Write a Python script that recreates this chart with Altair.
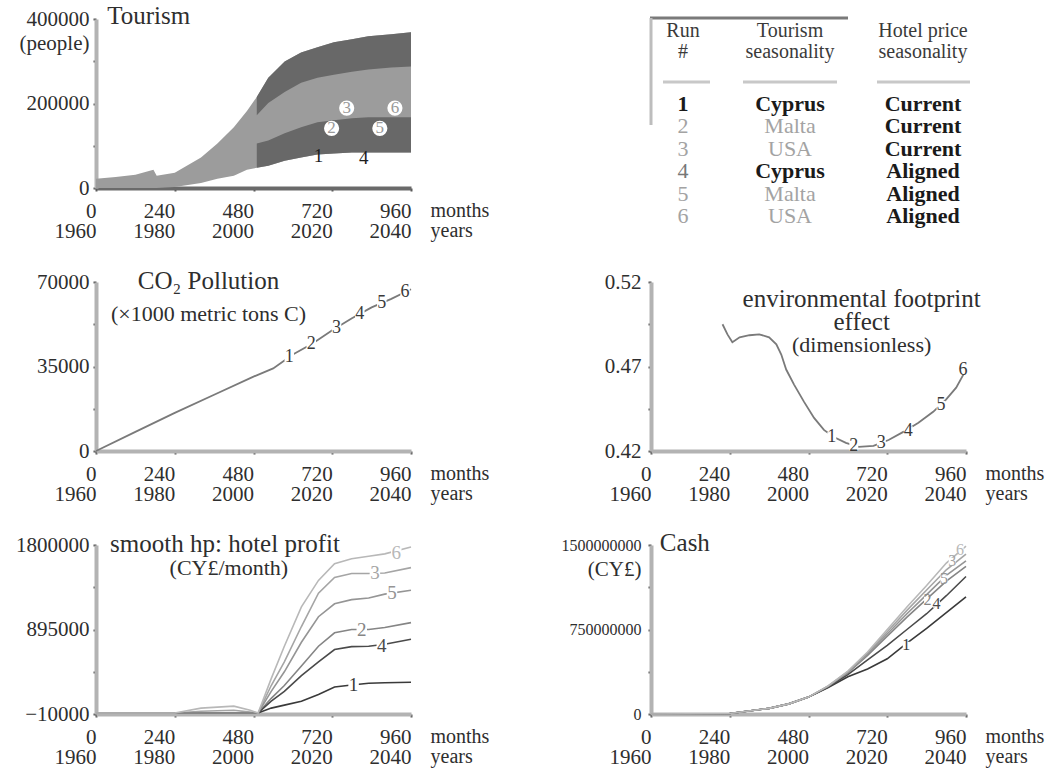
import altair as alt
import pandas as pd

FONT = "Liberation Serif"
W, H = 315, 169
AXIS_GRAY = "#b3b3b3"
TXT = "#2e2e2e"

RUNS = ["1", "2", "3", "4", "5", "6"]
RUN_COLORS = ["#3a3a3a", "#858585", "#a5a5a5", "#4a4a4a", "#959595", "#b8b8b8"]
X_TICKS = [0, 240, 480, 720, 960]

# ---------------- Tourism (people) ----------------
t_month = [0, 60, 120, 175, 185, 240, 320, 370, 420, 460, 490, 525, 575, 625, 675, 725, 780, 830, 900, 960]
t_top = [21600, 26300, 31100, 43100, 28700, 35900, 71900, 105400, 143700, 182000, 215600, 261100,
         299400, 320900, 332900, 344900, 352100, 359300, 364000, 368800]
t_bottom = [0, 0, 0, 0, 0, 2400, 12000, 21600, 28700, 43100, 47900, 52700, 64700, 71900, 79000,
            81400, 83800, 83800, 83800, 83800]
band_month = [490, 525, 575, 625, 675, 725, 780, 830, 900, 960]
upper_band_low = [172400, 201200, 227500, 249100, 261100, 268200, 275400, 280200, 285000, 287400]
lower_band_high = [105400, 112600, 129300, 143700, 155700, 160500, 165300, 167700, 167700, 167700]
t_lab_run = ["3", "6", "2", "5", "1", "4"]
t_lab_month = [764, 911, 718, 865, 678, 816]
t_lab_value = [189200, 189200, 141300, 141300, 76600, 71900]

# ---------------- CO2 pollution ----------------
c_month = [0, 120, 240, 360, 480, 540, 600, 660, 720, 780, 840, 900, 960]
c_value = [0, 7900, 15800, 23300, 30800, 34200, 40000, 44500, 50000, 55000, 59500, 63000, 67000]
c_lab_month = [589, 656, 733, 804, 871, 942]
c_lab_value = [39000, 44200, 51100, 56800, 61300, 65800]

# ---------------- environmental footprint effect ----------------
e_month = [218, 233, 248, 270, 300, 330, 360, 382, 397, 412, 436, 466, 497, 527, 557, 594, 633,
           678, 724, 769, 815, 860, 899, 930, 957]
e_value = [0.4950, 0.4890, 0.4843, 0.4873, 0.4885, 0.4890, 0.4873, 0.4831, 0.4771, 0.4682, 0.4593,
           0.4492, 0.4396, 0.4325, 0.4283, 0.4248, 0.4224, 0.4230, 0.4265, 0.4313, 0.4367, 0.4432,
           0.4504, 0.4575, 0.4670]
e_lab_month = [551, 618, 702, 784, 884, 951]
e_lab_value = [0.4285, 0.4230, 0.4245, 0.4320, 0.4470, 0.4680]

# ---------------- smooth hp: hotel profit ----------------
p_month = [0, 240, 320, 420, 470, 494, 534, 574, 626, 678, 727, 779, 831, 880, 960]
p_runs = {
    "1": [0, 0, 0, 0, 0, 0, 53000, 85000, 127000, 200000, 280000, 300000, 320000, 325000, 330000],
    "2": [0, 0, 0, 0, 0, 0, 158000, 295000, 505000, 716000, 860000, 895000, 895000, 916000, 969000],
    "3": [0, 0, 20000, 30000, 10000, 0, 295000, 548000, 927000, 1284000, 1453000, 1495000, 1495000, 1500000, 1558000],
    "4": [0, 0, 0, 0, 0, 0, 127000, 232000, 400000, 548000, 680000, 712000, 716000, 737000, 790000],
    "5": [0, 0, 0, 0, 0, 0, 232000, 442000, 758000, 1032000, 1170000, 1215000, 1232000, 1274000, 1316000],
    "6": [0, 0, 53000, 74000, 30000, 0, 369000, 716000, 1137000, 1421000, 1600000, 1653000, 1680000, 1705000, 1779000],
}
p_lab_month = [785, 810, 850, 871, 902, 915]
p_lab_run = ["1", "2", "3", "4", "5", "6"]
p_lab_value = [300000, 895000, 1495000, 716000, 1290000, 1715000]

# ---------------- Cash ----------------
k_month = [0, 240, 360, 420, 480, 540, 600, 660, 720, 780, 840, 900, 960]
k_runs = {
    "1": [0, 5e6, 50e6, 90e6, 150e6, 235e6, 330e6, 400e6, 490e6, 630e6, 760e6, 900e6, 1040e6],
    "2": [0, 5e6, 50e6, 90e6, 150e6, 245e6, 365e6, 520e6, 690e6, 860e6, 1020e6, 1180e6, 1310e6],
    "3": [0, 5e6, 50e6, 90e6, 150e6, 250e6, 375e6, 540e6, 730e6, 920e6, 1100e6, 1280e6, 1420e6],
    "4": [0, 5e6, 50e6, 90e6, 150e6, 240e6, 350e6, 480e6, 610e6, 750e6, 890e6, 1050e6, 1220e6],
    "5": [0, 5e6, 50e6, 90e6, 150e6, 245e6, 370e6, 530e6, 710e6, 890e6, 1060e6, 1230e6, 1360e6],
    "6": [0, 5e6, 50e6, 90e6, 150e6, 250e6, 380e6, 550e6, 750e6, 950e6, 1140e6, 1340e6, 1490e6],
}
k_lab_run = ["1", "4", "2", "5", "3", "6"]
k_lab_month = [778, 870, 843, 893, 918, 942]
k_lab_value = [610e6, 975e6, 1010e6, 1200e6, 1355e6, 1460e6]

# ---------------- table ----------------
table_runs = ["1", "2", "3", "4", "5", "6"]
table_tourism = ["Cyprus", "Malta", "USA", "Cyprus", "Malta", "USA"]
table_hotel = ["Current", "Current", "Current", "Aligned", "Aligned", "Aligned"]
table_headers = [["Run", "#"], ["Tourism", "seasonality"], ["Hotel price", "seasonality"]]


# =============== helpers ===============
def x_axis(dom_color=AXIS_GRAY):
    return alt.Axis(
        values=X_TICKS, format="d",
        labelExpr="[datum.label, '' + (1960 + datum.value / 12)]",
        labelAlign="right", labelBaseline="top", labelPadding=9, labelLineHeight=20,
        labelFont=FONT, labelFontSize=21, labelColor=TXT, labelOverlap=False, labelFlush=False,
        tickSize=3, tickColor="#555555", tickWidth=2,
        domainColor=dom_color, domainWidth=4, grid=False,
        title=["months", "years"], titleX=W + 19, titleY=12, titleAlign="left",
        titleBaseline="top", titleAngle=0, titleFont=FONT, titleFontSize=20,
        titleFontWeight="normal", titleColor=TXT, titleLineHeight=20,
    )


def y_axis(values, labeled, fmt, title=None, label_size=21, pad=4):
    expr = " || ".join(f"datum.value == {v}" for v in labeled)
    kw = dict(
        values=values, format=fmt, labelExpr=f"({expr}) ? datum.label : ''",
        labelFont=FONT, labelFontSize=label_size, labelColor=TXT, labelPadding=pad,
        labelOverlap=False, labelFlush=False, labelBaseline="middle",
        tickSize=3, tickColor="#555555", tickWidth=2,
        domainColor=AXIS_GRAY, domainWidth=4, grid=False,
    )
    if title:
        kw.update(title=title, titleAngle=0, titleAlign="right", titleBaseline="middle",
                  titleX=-(3 + pad), titleY=24, titleFont=FONT, titleFontSize=21,
                  titleFontWeight="normal", titleColor=TXT)
    else:
        kw.update(title=None)
    return alt.Axis(**kw)


def encs(ydom, yaxis, xdom_color=AXIS_GRAY):
    X = alt.X("m:Q", scale=alt.Scale(domain=[0, 960], nice=False, zero=False), axis=x_axis(xdom_color))
    Y = alt.Y("v:Q", scale=alt.Scale(domain=ydom, nice=False, zero=False), axis=yaxis)
    return X, Y


def ann(X, Y, m, v, text, size, align="center", style="normal", color=TXT):
    df = pd.DataFrame({"m": [m], "v": [v], "t": [text]})
    return alt.Chart(df).mark_text(font=FONT, fontSize=size, align=align, baseline="alphabetic",
                                   color=color, fontStyle=style).encode(x=X, y=Y, text="t:N")


run_color = alt.Color("run:N", scale=alt.Scale(domain=RUNS, range=RUN_COLORS), legend=None)


def line_labels(X, Y, runs, months, values, color=None, size=19, box=110):
    df = pd.DataFrame({"run": runs, "m": months, "v": values})
    bg = alt.Chart(df).mark_point(shape="square", filled=True, color="white", opacity=1,
                                  size=box).encode(x=X, y=Y)
    if color:
        t = alt.Chart(df).mark_text(font=FONT, fontSize=size, baseline="middle", align="center",
                                    color=color).encode(x=X, y=Y, text="run:N")
    else:
        t = alt.Chart(df).mark_text(font=FONT, fontSize=size, baseline="middle",
                                    align="center").encode(x=X, y=Y, text="run:N", color=run_color)
    return bg + t


# =============== Tourism panel ===============
X, Y = encs([0, 400000], y_axis([0, 100000, 200000, 300000, 400000], [0, 200000, 400000], "d",
                                 title="(people)"), xdom_color="#6a6a6a")
Y2 = alt.Y2("v2:Q")
t_df = pd.DataFrame({"m": t_month, "v": t_bottom, "v2": t_top})
ub_df = pd.DataFrame({"m": band_month, "v": upper_band_low, "v2": t_top[10:]})
lb_df = pd.DataFrame({"m": band_month, "v": t_bottom[10:], "v2": lower_band_high})
tl_df = pd.DataFrame({"run": t_lab_run, "m": t_lab_month, "v": t_lab_value})
circ = tl_df[tl_df.run.isin(["2", "3", "5", "6"])]
plain = tl_df[tl_df.run.isin(["1", "4"])]

tourism = alt.layer(
    alt.Chart(t_df).mark_area(color="#9c9c9c", opacity=1).encode(x=X, y=Y, y2=Y2),
    alt.Chart(ub_df).mark_area(color="#686868", opacity=1).encode(x=X, y=Y, y2=Y2),
    alt.Chart(lb_df).mark_area(color="#686868", opacity=1).encode(x=X, y=Y, y2=Y2),
    alt.Chart(circ).mark_point(shape="circle", filled=True, color="white", opacity=1, size=230).encode(x=X, y=Y),
    alt.Chart(circ).mark_text(font=FONT, fontSize=17, color="#9a9a9a", baseline="middle").encode(x=X, y=Y, text="run:N"),
    alt.Chart(plain).mark_text(font=FONT, fontSize=19, color="#1e1e1e", baseline="middle").encode(x=X, y=Y, text="run:N"),
    ann(X, Y, 34, 388000, "Tourism", 25, align="left"),
).properties(width=W, height=H)

# =============== Table panel ===============
TX = alt.X("x:Q", scale=alt.Scale(domain=[0, W], range=[0, W]), axis=None)
TY = alt.Y("y:Q", scale=alt.Scale(domain=[0, H], range=[0, H]), axis=None)
col_x = [32, 139, 272]
rows_y = [85 + 22.4 * i for i in range(6)]
hdr = []
for cx, (h1, h2) in zip(col_x, table_headers):
    hdr.append({"x": cx, "y": 12, "t": h1})
    hdr.append({"x": cx, "y": 33, "t": h2})
hdr_df = pd.DataFrame(hdr)
cells = []
for i in range(6):
    r = table_runs[i]
    cells.append({"x": col_x[0], "y": rows_y[i], "t": r, "bold": r == "1",
                  "c": "#1a1a1a" if r == "1" else ("#777777" if r == "4" else "#a3a3a3")})
    tb = table_tourism[i] == "Cyprus"
    cells.append({"x": col_x[1], "y": rows_y[i], "t": table_tourism[i], "bold": tb,
                  "c": "#1a1a1a" if tb else "#a3a3a3"})
    cells.append({"x": col_x[2], "y": rows_y[i], "t": table_hotel[i], "bold": True, "c": "#1a1a1a"})
cell_df = pd.DataFrame(cells)
rule_df = pd.DataFrame({
    "x": [-1, 12, 92, 226], "x2": [197, 59, 186, 319], "y": [-1, 63, 63, 63],
    "c": ["#7a7a7a", "#c8c8c8", "#c8c8c8", "#c8c8c8"],
})
vrule_df = pd.DataFrame({"x": [0], "y": [-1], "y2": [106]})

table = alt.layer(
    alt.Chart(rule_df).mark_rule(strokeWidth=3).encode(
        x=TX, x2=alt.X2("x2:Q"), y=TY, color=alt.Color("c:N", scale=None)),
    alt.Chart(vrule_df).mark_rule(strokeWidth=3, color="#bdbdbd").encode(x=TX, y=TY, y2=alt.Y2("y2:Q")),
    alt.Chart(hdr_df).mark_text(font=FONT, fontSize=20, color="#3a3a3a", baseline="middle").encode(
        x=TX, y=TY, text="t:N"),
    alt.Chart(cell_df[cell_df.bold]).mark_text(font=FONT, fontSize=22, fontWeight="bold",
                                                baseline="middle").encode(
        x=TX, y=TY, text="t:N", color=alt.Color("c:N", scale=None)),
    alt.Chart(cell_df[~cell_df.bold]).mark_text(font=FONT, fontSize=22, baseline="middle").encode(
        x=TX, y=TY, text="t:N", color=alt.Color("c:N", scale=None)),
).properties(width=W, height=H)

# =============== CO2 panel ===============
X, Y = encs([0, 70000], y_axis([0, 17500, 35000, 52500, 70000], [0, 35000, 70000], "d"))
co2_df = pd.DataFrame({"m": c_month, "v": c_value})
co2 = alt.layer(
    alt.Chart(co2_df).mark_line(color="#7a7a7a", strokeWidth=1.8).encode(x=X, y=Y),
    line_labels(X, Y, RUNS, c_lab_month, c_lab_value, color="#3a3a3a", size=18, box=90),
    ann(X, Y, 343, 67000, "CO₂ Pollution", 25),
    ann(X, Y, 343, 53800, "(×1000 metric tons C)", 22),
).properties(width=W, height=H)

# =============== env footprint panel ===============
X, Y = encs([0.42, 0.52], y_axis([0.42, 0.445, 0.47, 0.495, 0.52], [0.42, 0.47, 0.52], ".2f", pad=7))
env_df = pd.DataFrame({"m": e_month, "v": e_value})
env = alt.layer(
    alt.Chart(env_df).mark_line(color="#7a7a7a", strokeWidth=1.8).encode(x=X, y=Y),
    line_labels(X, Y, RUNS, e_lab_month, e_lab_value, color="#3a3a3a", size=18, box=80),
    ann(X, Y, 642, 0.5051, "environmental footprint", 25),
    ann(X, Y, 642, 0.4914, "effect", 25),
    ann(X, Y, 642, 0.4783, "(dimensionless)", 22),
).properties(width=W, height=H)

# =============== hotel profit panel ===============
X, Y = encs([-10000, 1800000], y_axis([-10000, 442500, 895000, 1347500, 1800000],
                                        [-10000, 895000, 1800000], "d"))
p_rows = [{"run": r, "m": m, "v": v} for r in RUNS for m, v in zip(p_month, p_runs[r])]
p_df = pd.DataFrame(p_rows)
profit = alt.layer(
    alt.Chart(p_df).mark_line(strokeWidth=1.6).encode(x=X, y=Y, color=run_color, detail="run:N"),
    line_labels(X, Y, p_lab_run, p_lab_month, p_lab_value, size=19, box=110),
    ann(X, Y, 43, 1726000, "smooth hp: hotel profit", 25, align="left"),
    ann(X, Y, 405, 1474000, "(CY£/month)", 22),
).properties(width=W, height=H)

# =============== cash panel ===============
X, Y = encs([0, 1500000000], y_axis([0, 375000000, 750000000, 1125000000, 1500000000],
                                      [0, 750000000, 1500000000], "d", title="(CY£)",
                                      label_size=16, pad=7))
k_rows = [{"run": r, "m": m, "v": v} for r in RUNS for m, v in zip(k_month, k_runs[r])]
k_df = pd.DataFrame(k_rows)
cash = alt.layer(
    alt.Chart(k_df).mark_line(strokeWidth=1.6).encode(x=X, y=Y, color=run_color, detail="run:N"),
    line_labels(X, Y, k_lab_run, k_lab_month, k_lab_value, size=16, box=50),
    ann(X, Y, 27, 1447000000, "Cash", 25, align="left"),
).properties(width=W, height=H)

chart = alt.concat(
    tourism, table, co2, env, profit, cash,
    columns=2, spacing={"row": 94, "column": 240}, bounds="flush",
).configure_view(stroke=None).properties(
    padding={"left": 15, "top": 4, "right": 4, "bottom": 4}
)

chart.save("out.html", embed_options={"renderer": "svg", "actions": False})
